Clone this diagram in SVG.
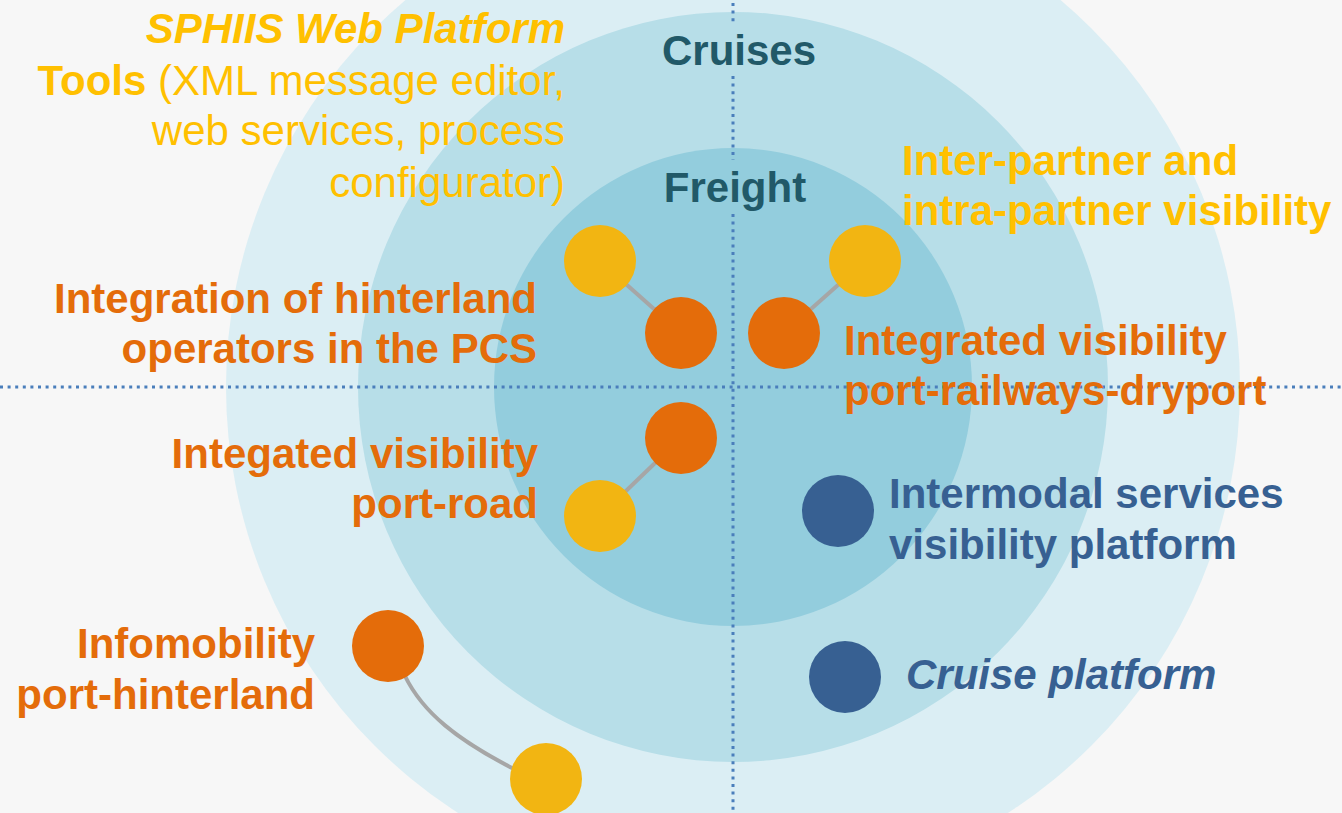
<svg xmlns="http://www.w3.org/2000/svg" width="1342" height="813" viewBox="0 0 1342 813">
<style>
text{font-family:"Liberation Sans",Arial,sans-serif;font-size:42px;font-weight:bold}
.y{fill:#ffc000}.o{fill:#e46c0a}.b{fill:#376092}.t{fill:#215968}
.n{font-weight:normal}
.cy{fill:#f2b512}.co{fill:#e46c0a}.cb{fill:#376092}
.dot{stroke:#4a7ebb;stroke-width:3;stroke-dasharray:3 4.6;fill:none}
.link{stroke:#a6a6a6;stroke-width:4;fill:none}
</style>
<rect width="1342" height="813" fill="#f7f7f7"/>
<g id="rings">
<circle cx="733" cy="387" r="507" fill="#dbeef4"/>
<circle cx="733" cy="387" r="375" fill="#b7dee8"/>
<circle cx="733" cy="387" r="239" fill="#93cddd"/>
</g>
<g id="axes">
<line class="dot" x1="0" y1="387" x2="1342" y2="387"/>
<line class="dot" x1="733" y1="3" x2="733" y2="24"/>
<line class="dot" x1="733" y1="76" x2="733" y2="160"/>
<line class="dot" x1="733" y1="214" x2="733" y2="813"/>
</g>
<g id="connectors">
<line class="link" x1="600" y1="261" x2="681" y2="333"/>
<line class="link" x1="784" y1="333" x2="865" y2="261"/>
<line class="link" x1="681" y1="438" x2="600" y2="516"/>
<path class="link" d="M388,646 L405,676 C423,713 458,740 512,768 L546,779"/>
</g>
<g id="labels-rings">
<text class="t" x="739" y="65" text-anchor="middle">Cruises</text>
<text class="t" x="735" y="202" text-anchor="middle">Freight</text>
</g>
<g id="sphiis-tools">
<text class="y" text-anchor="end"><tspan x="565" y="43" font-style="italic">SPHIIS Web Platform</tspan><tspan x="565" y="95">Tools<tspan class="n"> (XML message editor,</tspan></tspan><tspan class="n" x="565" y="145">web services, process</tspan><tspan class="n" x="565" y="197">configurator)</tspan></text>
</g>
<g id="node-hinterland-pcs">
<circle class="cy" cx="600" cy="261" r="36"/>
<circle class="co" cx="681" cy="333" r="36"/>
<text class="o" text-anchor="end"><tspan x="537" y="313">Integration of hinterland</tspan><tspan x="537" y="363">operators in the PCS</tspan></text>
</g>
<g id="node-partner-visibility">
<circle class="co" cx="784" cy="333" r="36"/>
<circle class="cy" cx="865" cy="261" r="36"/>
<text class="y"><tspan x="902" y="175">Inter-partner and</tspan><tspan x="902" y="225">intra-partner visibility</tspan></text>
<text class="o"><tspan x="844" y="355">Integrated visibility</tspan><tspan x="844" y="405">port-railways-dryport</tspan></text>
</g>
<g id="node-port-road">
<circle class="co" cx="681" cy="438" r="36"/>
<circle class="cy" cx="600" cy="516" r="36"/>
<text class="o" text-anchor="end"><tspan x="538" y="468">Integated visibility</tspan><tspan x="538" y="518">port-road</tspan></text>
</g>
<g id="node-infomobility">
<circle class="co" cx="388" cy="646" r="36"/>
<circle class="cy" cx="546" cy="779" r="36"/>
<text class="o" text-anchor="end"><tspan x="315" y="658">Infomobility</tspan><tspan x="315" y="709">port-hinterland</tspan></text>
</g>
<g id="node-intermodal">
<circle class="cb" cx="838" cy="511" r="36"/>
<text class="b"><tspan x="889" y="508">Intermodal services</tspan><tspan x="889" y="559">visibility platform</tspan></text>
</g>
<g id="node-cruise">
<circle class="cb" cx="845" cy="677" r="36"/>
<text class="b" x="906" y="689" font-style="italic">Cruise platform</text>
</g>
</svg>
